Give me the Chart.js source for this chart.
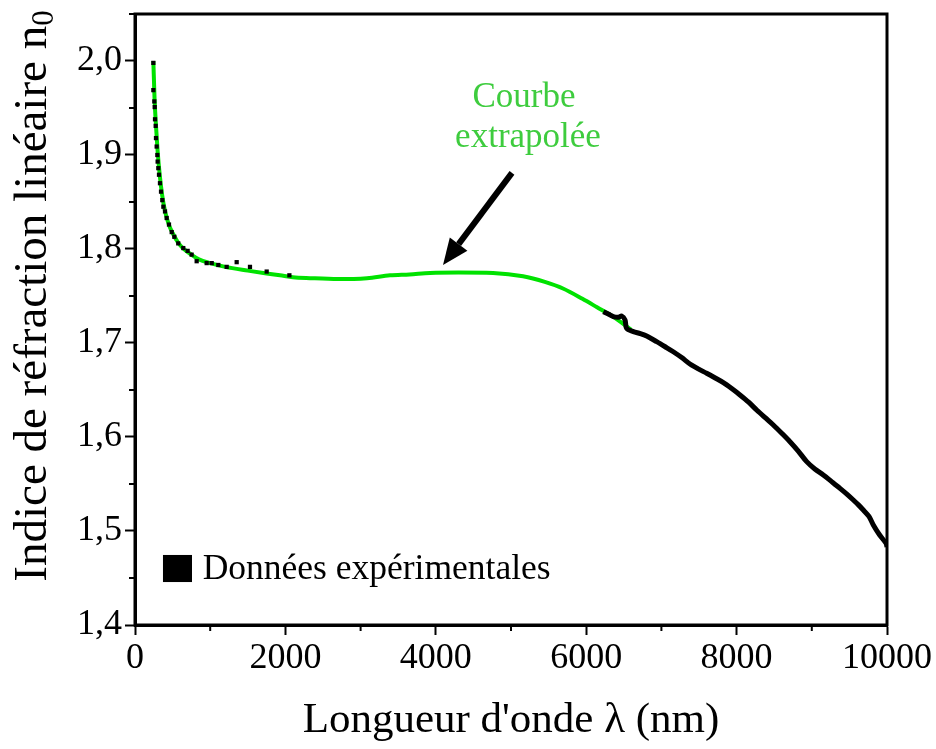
<!DOCTYPE html>
<html><head><meta charset="utf-8">
<script src="https://cdn.jsdelivr.net/npm/chart.js@4"></script>
<style>html,body{margin:0;padding:0;background:#fff}</style>
</head><body>
<canvas id="c" width="936" height="749" style="width:936px;height:749px;display:block"></canvas>
<script>
// Experimental data (sparse UV-visible points)
const expX = [244,244,257,262,266,275,279,288,297,301,310,319,332,346,363,377,399,421,452,488,523,575,642,700,753,820,953,1020,1108,1219,1352,1529,1751,2053];
const expY = [1.998,1.969,1.957,1.951,1.938,1.931,1.918,1.909,1.900,1.893,1.886,1.879,1.870,1.861,1.852,1.845,1.840,1.833,1.826,1.818,1.813,1.806,1.801,1.798,1.794,1.787,1.785,1.785,1.783,1.781,1.786,1.781,1.776,1.772];
// Experimental data (dense IR part)
const irX = [6228,6300,6361,6427,6472,6516,6538,6627,6720,6804,6937,7050,7158,7270,7380,7490,7602,7710,7824,7935,8045,8160,8267,8380,8488,8600,8710,8820,8932,9040,9153,9260,9375,9470,9552,9620,9685,9760,9818,9900,9987,10000];
const irY = [1.7333,1.7305,1.7280,1.7273,1.7287,1.7245,1.7156,1.7121,1.7100,1.7074,1.7014,1.6960,1.6907,1.6845,1.6777,1.6725,1.6678,1.6630,1.6578,1.6515,1.6447,1.6370,1.6287,1.6205,1.6128,1.6040,1.5950,1.5850,1.5738,1.5660,1.5596,1.5528,1.5454,1.5390,1.5330,1.5278,1.5223,1.5155,1.5064,1.4960,1.4869,1.4830];
// Extrapolated curve
const fitX = [244,260,280,300,330,360,400,450,500,580,650,750,850,1000,1200,1500,1750,1928,2100,2327,2700,3085,3391,3650,3923,4300,4761,5160,5450,5691,5950,6144,6356,6600];
const fitY = [2.000,1.960,1.930,1.905,1.878,1.858,1.840,1.826,1.817,1.806,1.800,1.794,1.789,1.785,1.781,1.777,1.774,1.772,1.770,1.769,1.768,1.769,1.772,1.773,1.7745,1.775,1.7745,1.771,1.765,1.758,1.747,1.738,1.728,1.714];
// Axis ticks
const xMajor = [0,2000,4000,6000,8000,10000];
const xMinor = [1000,3000,5000,7000,9000];
const yMinor = [1.45,1.55,1.65,1.75,1.85,1.95,2.05];
// Texts
const xTitle = "Longueur d'onde \u03bb (nm)";
const yTitleMain = "Indice de r\u00e9fraction lin\u00e9aire n";
const yTitleSub = "0";
const legendLabel = "Donn\u00e9es exp\u00e9rimentales";
const noteLines = ["Courbe", "extrapol\u00e9e"];
// Annotation anchors in data coordinates
const noteAnchor = [{x:5173,y:1.951},{x:5226,y:1.9085}];
const arrowTail = {x:5013,y:1.881};
const arrowTip = {x:4096,y:1.783};
const legendBox = {x0:372,x1:758,y0:1.4745,y1:1.4457};
const legendText = {x:900,y:1.4585};

const FONT = "'Liberation Serif','Times New Roman',serif";
const GREEN_LINE = 'rgb(0,226,0)';
const GREEN_TEXT = 'rgb(62,204,62)';

const toPts = (xs, ys) => xs.map((x,i)=>({x, y: ys[i]}));

const deco = {
  id: 'deco',
  afterDraw(chart){
    const ctx = chart.ctx, a = chart.chartArea, xs = chart.scales.x, ys = chart.scales.y;
    ctx.save();
    // frame
    ctx.strokeStyle = '#000'; ctx.lineWidth = 3;
    ctx.strokeRect(a.left, a.top, a.right - a.left, a.bottom - a.top);
    // minor ticks
    ctx.lineWidth = 2;
    xMinor.forEach(v => { const p = xs.getPixelForValue(v); ctx.beginPath(); ctx.moveTo(p, a.bottom); ctx.lineTo(p, a.bottom + 6); ctx.stroke(); });
    yMinor.forEach(v => { const p = ys.getPixelForValue(v); ctx.beginPath(); ctx.moveTo(a.left, p); ctx.lineTo(a.left - 6, p); ctx.stroke(); });
    // y axis title (rotated, with subscript)
    ctx.save();
    ctx.translate(34, 296);
    ctx.rotate(-Math.PI / 2);
    ctx.fillStyle = '#000';
    ctx.font = '47px ' + FONT;
    const wMain = ctx.measureText(yTitleMain).width;
    ctx.font = '31px ' + FONT;
    const wSub = ctx.measureText(yTitleSub).width;
    const total = wMain + wSub;
    ctx.textBaseline = 'middle'; ctx.textAlign = 'left';
    ctx.font = '47px ' + FONT;
    ctx.fillText(yTitleMain, -total / 2, 0);
    ctx.font = '31px ' + FONT;
    ctx.fillText(yTitleSub, -total / 2 + wMain, 11);
    ctx.restore();
    // legend
    const lx0 = xs.getPixelForValue(legendBox.x0), lx1 = xs.getPixelForValue(legendBox.x1);
    const ly0 = ys.getPixelForValue(legendBox.y0), ly1 = ys.getPixelForValue(legendBox.y1);
    ctx.fillStyle = '#000';
    ctx.fillRect(lx0, ly0, lx1 - lx0, ly1 - ly0);
    ctx.font = '35.5px ' + FONT; ctx.textAlign = 'left'; ctx.textBaseline = 'middle';
    ctx.fillText(legendLabel, xs.getPixelForValue(legendText.x), ys.getPixelForValue(legendText.y));
    // note text
    ctx.fillStyle = GREEN_TEXT; ctx.font = '35px ' + FONT; ctx.textAlign = 'center'; ctx.textBaseline = 'alphabetic';
    noteLines.forEach((t,i) => ctx.fillText(t, xs.getPixelForValue(noteAnchor[i].x), ys.getPixelForValue(noteAnchor[i].y)));
    // arrow
    const tx = xs.getPixelForValue(arrowTail.x), ty = ys.getPixelForValue(arrowTail.y);
    const hx = xs.getPixelForValue(arrowTip.x), hy = ys.getPixelForValue(arrowTip.y);
    const ang = Math.atan2(hy - ty, hx - tx);
    const headLen = 26, headHalf = 11;
    const bx = hx - headLen * Math.cos(ang), by = hy - headLen * Math.sin(ang);
    ctx.strokeStyle = '#000'; ctx.lineWidth = 6; ctx.lineCap = 'butt';
    ctx.beginPath(); ctx.moveTo(tx, ty); ctx.lineTo(bx, by); ctx.stroke();
    ctx.fillStyle = '#000';
    ctx.beginPath();
    ctx.moveTo(hx, hy);
    ctx.lineTo(bx + headHalf * Math.sin(ang), by - headHalf * Math.cos(ang));
    ctx.lineTo(bx - headHalf * Math.sin(ang), by + headHalf * Math.cos(ang));
    ctx.closePath(); ctx.fill();
    ctx.restore();
  }
};

new Chart(document.getElementById('c'), {
  type: 'scatter',
  data: {
    datasets: [
      { label: legendLabel, data: toPts(expX, expY), showLine: false, pointStyle: 'rect', pointRadius: 3, pointBackgroundColor: '#000', pointBorderWidth: 0, order: 1 },
      { label: 'IR', data: toPts(irX, irY), showLine: true, borderColor: '#000', borderWidth: 5, pointRadius: 0, tension: 0.3, order: 1 },
      { label: 'fit', data: toPts(fitX, fitY), showLine: true, borderColor: GREEN_LINE, borderWidth: 4, pointRadius: 0, cubicInterpolationMode: 'monotone', order: 2 }
    ]
  },
  options: {
    responsive: false, animation: false, devicePixelRatio: 1,
    layout: { padding: { top: 14, right: 49, left: 0, bottom: 0 } },
    plugins: { legend: { display: false }, tooltip: { enabled: false } },
    scales: {
      x: {
        type: 'linear', min: 0, max: 10000,
        afterFit: s => { s.height = 124; s.paddingLeft = 0; s.paddingRight = 0; },
        afterBuildTicks: s => { s.ticks = xMajor.map(v => ({value: v})); },
        ticks: { color: '#000', font: { family: FONT, size: 36 }, padding: 2, maxRotation: 0, autoSkip: false, callback: v => String(v) },
        grid: { drawOnChartArea: false, drawTicks: true, tickLength: 10, tickWidth: 2, tickColor: '#000' },
        border: { display: true, color: '#000', width: 3 },
        title: { display: true, text: xTitle, color: '#000', font: { family: FONT, size: 43 }, padding: { top: 0, bottom: 2 } }
      },
      y: {
        type: 'linear', min: 1.4, max: 2.05,
        afterFit: s => { s.width = 135; s.paddingTop = 0; s.paddingBottom = 0; },
        ticks: { stepSize: 0.1, includeBounds: false, color: '#000', font: { family: FONT, size: 36 }, padding: 3, callback: v => Number(v).toFixed(1).replace('.', ',') },
        grid: { drawOnChartArea: false, drawTicks: true, tickLength: 10, tickWidth: 2, tickColor: '#000' },
        border: { display: true, color: '#000', width: 3 },
        title: { display: false }
      }
    }
  },
  plugins: [deco]
});
</script>
</body></html>
